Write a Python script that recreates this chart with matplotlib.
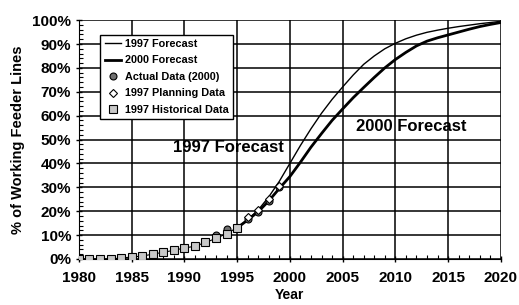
import numpy as np
import matplotlib.pyplot as plt
from matplotlib.ticker import MultipleLocator, PercentFormatter

plt.rcParams['font.family'] = ['Liberation Sans', 'DejaVu Sans']
plt.rcParams['font.weight'] = 'bold'

# historical data (1997), percent
hist_years = np.arange(1980, 1996)
hist_pct = [0, 0, 0, 0, 0.4, 0.8, 1.2, 2.0, 2.8, 3.6, 4.6, 5.3, 6.9, 8.6, 10.6, 13.1]

# actual data (2000)
actual_years = [1993, 1994, 1996, 1997, 1998, 1999]
actual_pct = [10.2, 12.6, 16.6, 19.5, 24.4, 30.0]

# 1997 planning data
plan_years = [1996, 1997, 1998, 1999]
plan_pct = [17.5, 20.5, 25.0, 30.5]

# forecasts
fc_years = np.arange(1995, 2021)
fc1997 = [13, 16.5, 20.5, 26, 32.5, 40, 47.5, 54.5, 61, 66.8, 72, 77, 81.5, 85, 88, 90.3,
          92.2, 93.7, 94.9, 95.8, 96.6, 97.3, 97.9, 98.5, 99, 99.5]
fc2000 = [13, 16.3, 19.8, 24.3, 29.5, 34.5, 40.5, 46.8, 52.5, 58, 62.8, 67.5, 71.8, 76, 80, 83.5,
          86.5, 89.2, 91.2, 92.6, 93.8, 95, 96.2, 97.3, 98.2, 99]

fig = plt.figure(figsize=(5.19, 3.05), dpi=100)
ax = fig.add_axes([0.152, 0.151, 0.813, 0.783])

l1, = ax.plot(fc_years, fc1997, color='black', lw=1.0, label='1997 Forecast', zorder=4)
l2, = ax.plot(fc_years, fc2000, color='black', lw=2.0, label='2000 Forecast', zorder=4)
m1, = ax.plot(actual_years, actual_pct, 'o', ms=5, mfc='#707070', mec='black', mew=0.8,
              label='Actual Data (2000)', zorder=5)
m2, = ax.plot(plan_years, plan_pct, 'D', ms=4.5, mfc='white', mec='black', mew=0.8,
              label='1997 Planning Data', zorder=5)
m3, = ax.plot(hist_years, hist_pct, 's', ms=6, mfc='#c8c8c8', mec='black', mew=0.8,
              label='1997 Historical Data', zorder=5)
ax.plot(hist_years, hist_pct, color='black', lw=0.8, zorder=3)

ax.set_xlim(1980, 2020)
ax.set_ylim(0, 100)
ax.xaxis.set_major_locator(MultipleLocator(5))
ax.xaxis.set_minor_locator(MultipleLocator(1))
ax.yaxis.set_major_locator(MultipleLocator(10))
ax.yaxis.set_minor_locator(MultipleLocator(2))
ax.yaxis.set_major_formatter(PercentFormatter(decimals=0))
ax.grid(True, which='major', color='black', lw=1.1)
ax.tick_params(which='major', direction='inout', length=5, width=1, labelsize=11)
ax.tick_params(axis='x', which='major', pad=6)
ax.tick_params(axis='y', which='major', pad=3)
ax.tick_params(which='minor', direction='in', length=3, width=0.8)
for lab in ax.get_xticklabels() + ax.get_yticklabels():
    lab.set_fontweight('bold')
for s in ['top', 'right']:
    ax.spines[s].set_visible(False)

ax.set_xlabel('Year', fontsize=10, fontweight='bold', labelpad=2)
ax.set_ylabel('% of Working Feeder Lines', fontsize=10.5, fontweight='bold', labelpad=5)

ax.text(1988.9, 46.8, '1997 Forecast', fontsize=12, fontweight='bold', va='center')
ax.text(2006.3, 55.4, '2000 Forecast', fontsize=12, fontweight='bold', va='center')

leg = ax.legend(handles=[l1, l2, m1, m2, m3], loc='upper left', bbox_to_anchor=(0.038, 0.962),
                fontsize=7.8, frameon=True, fancybox=False, edgecolor='black',
                framealpha=1, handlelength=1.5, handletextpad=0.4, borderpad=0.4,
                labelspacing=0.6)
leg.get_frame().set_linewidth(1.0)
for t in leg.get_texts():
    t.set_fontweight('bold')
leg.set_zorder(6)

fig.savefig('out.png', dpi=100)
